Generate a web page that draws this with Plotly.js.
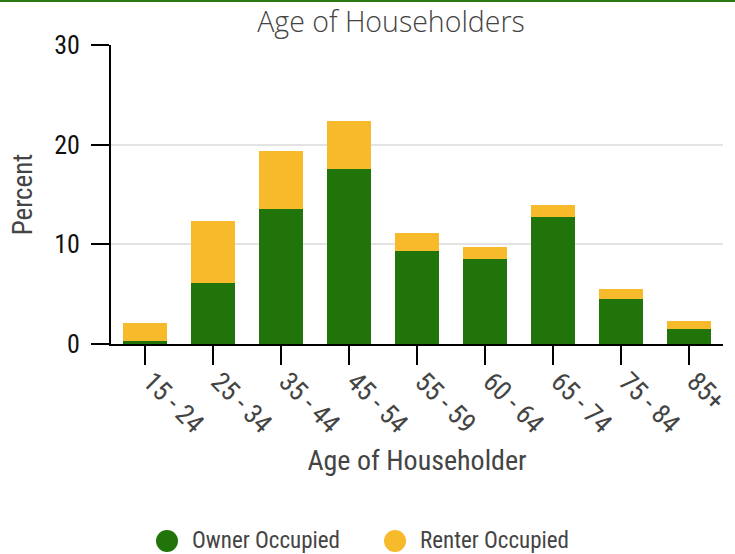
<!DOCTYPE html>
<html>
<head>
<meta charset="utf-8">
<script src="https://cdn.plot.ly/plotly-3.0.1.min.js"></script>
<style>
html,body{margin:0;padding:0;background:#fff;}
#topbar{position:absolute;left:0;top:0;width:735px;height:2px;background:#2a7a10;z-index:10;}
#chart{width:735px;height:554px;}
</style>
</head>
<body>
<div id="topbar"></div>
<div id="chart"></div>
<script>
const categories = ["15 - 24","25 - 34","35 - 44","45 - 54","55 - 59","60 - 64","65 - 74","75 - 84","85+"];
const ownerOccupied = [0.33, 6.15, 13.57, 17.58, 9.33, 8.53, 12.74, 4.51, 1.5];
const renterOccupied = [1.82, 6.22, 5.82, 4.82, 1.8, 1.2, 1.2, 1.01, 0.81];
const seriesNames = ["Owner Occupied", "Renter Occupied"];
const colors = ["#217409", "#f7ba2a"];
const yTicks = [0, 10, 20, 30];

const condensed = "'Roboto Condensed', 'Liberation Sans Narrow', 'Arial Narrow', Roboto, sans-serif";

const traces = [
  {type:'bar', x:categories, y:ownerOccupied, name:seriesNames[0], marker:{color:colors[0]}, showlegend:false},
  {type:'bar', x:categories, y:renterOccupied, name:seriesNames[1], marker:{color:colors[1]}, showlegend:false}
];

// custom legend (large circles) placed below the plot
const W = 735, H = 554, mL = 111, mR = 12, mT = 45, mB = 210;
const pw = W - mL - mR, ph = H - mT - mB;
const px = v => (v - mL) / pw;
const py = v => (H - mB - v) / ph;
const legendItems = [{cx:167, tx:190}, {cx:395, tx:418}];
const legendY = 541;
const shapes = legendItems.map((it, i) => ({
  type:'circle', xref:'paper', yref:'paper', xsizemode:'pixel', ysizemode:'pixel',
  xanchor:px(it.cx), yanchor:py(legendY), x0:-11, x1:11, y0:-11, y1:11,
  fillcolor:colors[i], line:{width:0}
}));
const annotations = legendItems.map((it, i) => ({
  xref:'paper', yref:'paper', x:px(it.tx), y:py(legendY - 1), xanchor:'left', yanchor:'middle',
  text:seriesNames[i], showarrow:false, font:{family:condensed, size:23, color:'#444'}
}));

const layout = {
  width:W, height:H,
  margin:{l:mL, r:mR, t:mT, b:mB},
  paper_bgcolor:'#fff', plot_bgcolor:'#fff',
  barmode:'stack', bargap:0.35,
  font:{family:condensed, color:'#444'},
  showlegend:false,
  title:{text:'Age of Householders', font:{family:"'Open Sans', Lato, sans-serif", size:28.5, color:'#444', weight:300}, x:0.532, xref:'container', xanchor:'center', y:1 - 22 / H, yref:'container', yanchor:'middle'},
  xaxis:{
    type:'category', range:[-0.5, 8.5],
    tickmode:'array', tickvals:categories, ticktext:categories,
    tickangle:45,
    tickfont:{family:condensed, size:27, color:'#444'},
    ticks:'outside', ticklen:19, tickwidth:2, tickcolor:'#000',
    ticklabelstandoff:-10, ticklabelshift:6,
    showline:true, linecolor:'#000', linewidth:2,
    showgrid:false, automargin:false,
    title:{text:'Age of Householder', font:{family:condensed, size:28, color:'#444'}, standoff:12}
  },
  yaxis:{
    range:[0,30], tickvals:yTicks,
    tickfont:{family:condensed, size:26, color:'#111'},
    ticks:'outside', ticklen:18, tickwidth:2, tickcolor:'#000',
    ticklabelstandoff:6,
    showline:true, linecolor:'#000', linewidth:2,
    showgrid:true, gridcolor:'#e3e3e3', gridwidth:2,
    zeroline:false, automargin:false,
    title:{text:'Percent', font:{family:condensed, size:27, color:'#444'}, standoff:14}
  },
  shapes:shapes,
  annotations:annotations
};

Plotly.newPlot('chart', traces, layout, {displayModeBar:false, staticPlot:true});
</script>
</body>
</html>
